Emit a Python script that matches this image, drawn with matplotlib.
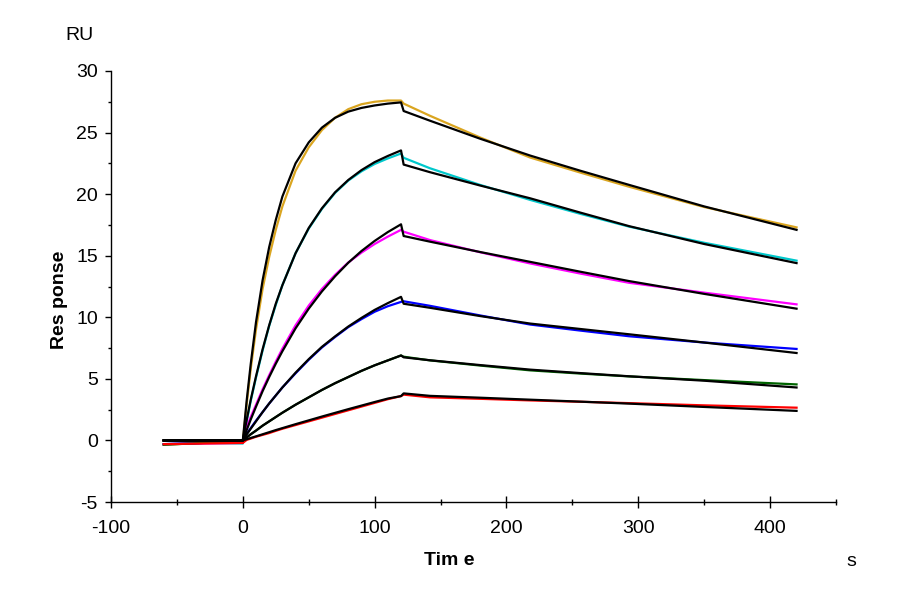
import matplotlib
matplotlib.use("Agg")
import matplotlib.pyplot as plt
from matplotlib.ticker import MultipleLocator

plt.rcParams['font.family'] = ['Liberation Sans', 'DejaVu Sans']
plt.rcParams['axes.unicode_minus'] = False

# Zeitachse (s)
time_s = [-60, -30, 0, 3, 6, 10, 15, 20, 25, 30, 40, 50, 60, 70, 80, 90,
          100, 110, 120, 122, 142, 180, 218, 256, 293, 350, 420]

# Messkurven (farbig)
data_1 = [-0.35, -0.2, -0.15, 3.0, 5.8, 9.0, 12.3, 14.9, 17.1, 19.0, 21.9, 23.8, 25.2, 26.2,
          26.9, 27.3, 27.5, 27.6, 27.6, 27.35, 26.36, 24.6, 22.97, 21.75, 20.6, 18.95, 17.3]
data_2 = [-0.3, -0.2, -0.25, 1.6, 3.2, 5.1, 7.3, 9.3, 11.0, 12.6, 15.2, 17.2, 18.8, 20.1,
          21.1, 21.85, 22.45, 22.9, 23.3, 22.95, 22.1, 20.75, 19.53, 18.4, 17.36, 16.05, 14.6]
data_3 = [-0.3, -0.25, -0.2, 1.1, 1.9, 2.9, 4.15, 5.3, 6.4, 7.45, 9.35, 10.95, 12.3, 13.45,
          14.45, 15.25, 15.95, 16.55, 17.1, 16.95, 16.27, 15.28, 14.37, 13.55, 12.8, 12.0, 11.05]
data_4 = [-0.3, -0.2, -0.15, 0.55, 1.0, 1.6, 2.3, 3.0, 3.65, 4.3, 5.45, 6.55, 7.55, 8.4,
          9.2, 9.85, 10.45, 10.9, 11.25, 11.3, 10.93, 10.15, 9.41, 8.92, 8.46, 7.95, 7.43]
data_5 = [-0.35, -0.2, -0.15, 0.25, 0.5, 0.8, 1.2, 1.55, 1.9, 2.25, 2.9, 3.5, 4.1, 4.65,
          5.15, 5.65, 6.1, 6.5, 6.9, 6.8, 6.5, 6.08, 5.69, 5.43, 5.2, 4.9, 4.55]
data_6 = [-0.3, -0.25, -0.2, 0.05, 0.15, 0.3, 0.45, 0.6, 0.78, 0.95, 1.25, 1.55, 1.85, 2.15,
          2.45, 2.75, 3.05, 3.35, 3.6, 3.72, 3.5, 3.38, 3.25, 3.14, 3.03, 2.85, 2.66]

# Fitkurven (schwarz)
fit_1 = [0, 0, 0, 3.3, 6.2, 9.6, 13.0, 15.7, 17.9, 19.8, 22.5, 24.2, 25.4, 26.2,
         26.7, 27.0, 27.2, 27.35, 27.45, 26.75, 25.96, 24.5, 23.13, 21.9, 20.75, 19.0, 17.1]
fit_2 = [0, 0, 0, 1.7, 3.3, 5.2, 7.4, 9.35, 11.1, 12.6, 15.2, 17.25, 18.85, 20.15,
         21.15, 21.95, 22.6, 23.1, 23.55, 22.4, 21.78, 20.7, 19.66, 18.5, 17.4, 15.95, 14.4]
fit_3 = [0, 0, 0, 0.86, 1.7, 2.74, 4.0, 5.15, 6.23, 7.24, 9.1, 10.7, 12.1, 13.33,
         14.43, 15.38, 16.2, 16.92, 17.55, 16.6, 16.14, 15.3, 14.5, 13.7, 12.94, 11.9, 10.7]
fit_4 = [0, 0, 0, 0.5, 0.95, 1.55, 2.3, 3.0, 3.65, 4.3, 5.5, 6.6, 7.6, 8.45,
         9.25, 9.95, 10.6, 11.15, 11.66, 11.1, 10.77, 10.1, 9.49, 9.05, 8.62, 7.95, 7.1]
fit_5 = [0, 0, 0, 0.25, 0.5, 0.8, 1.2, 1.55, 1.9, 2.25, 2.9, 3.5, 4.1, 4.65,
         5.15, 5.65, 6.1, 6.5, 6.9, 6.75, 6.51, 6.12, 5.75, 5.47, 5.21, 4.85, 4.3]
fit_6 = [0, 0, 0, 0.1, 0.2, 0.33, 0.5, 0.67, 0.84, 1.0, 1.32, 1.63, 1.94, 2.24,
         2.54, 2.83, 3.12, 3.4, 3.6, 3.82, 3.62, 3.47, 3.31, 3.15, 2.99, 2.72, 2.4]

data_curves = [data_1, data_2, data_3, data_4, data_5, data_6]
fit_curves = [fit_1, fit_2, fit_3, fit_4, fit_5, fit_6]
colors = ["#DAA520", "#00C8CC", "#FF00FF", "#0000FF", "#006400", "#FF0000"]

fig = plt.figure(figsize=(9, 6), dpi=100)
ax = fig.add_axes([0.1233, 0.1633, 0.8057, 0.7184])

for values, color in zip(data_curves, colors):
    ax.plot(time_s, values, color=color, lw=1.6)
for values in fit_curves:
    ax.plot(time_s, values, color="black", lw=1.6)

ax.set_xlim(-100, 450)
ax.set_ylim(-5, 30)
ax.xaxis.set_major_locator(MultipleLocator(100))
ax.xaxis.set_minor_locator(MultipleLocator(50))
ax.yaxis.set_major_locator(MultipleLocator(5))
ax.yaxis.set_minor_locator(MultipleLocator(2.5))

for side in ["top", "right"]:
    ax.spines[side].set_visible(False)
for side in ["left", "bottom"]:
    ax.spines[side].set_linewidth(1.0)

ax.tick_params(axis="x", which="major", direction="inout", length=8, width=1.0, labelsize=14, pad=9)
ax.tick_params(axis="x", which="minor", direction="inout", length=5, width=1.0)
ax.tick_params(axis="y", which="major", direction="out", length=4.5, width=1.0, labelsize=14, pad=5)
ax.tick_params(axis="y", which="minor", direction="out", length=2.5, width=1.0)

ax.text(-0.0716, 0.469, "Res ponse", transform=ax.transAxes, rotation=90,
        ha="center", va="center", fontsize=14, fontweight="bold")
ax.text(0.467, -0.135, "Tim e", transform=ax.transAxes,
        ha="center", va="center", fontsize=14, fontweight="bold")
ax.text(-0.044, 1.083, "RU", transform=ax.transAxes, ha="center", va="center", fontsize=14)
ax.text(1.0207, -0.137, "s", transform=ax.transAxes, ha="center", va="center", fontsize=14)

fig.savefig("out.png", dpi=100)
